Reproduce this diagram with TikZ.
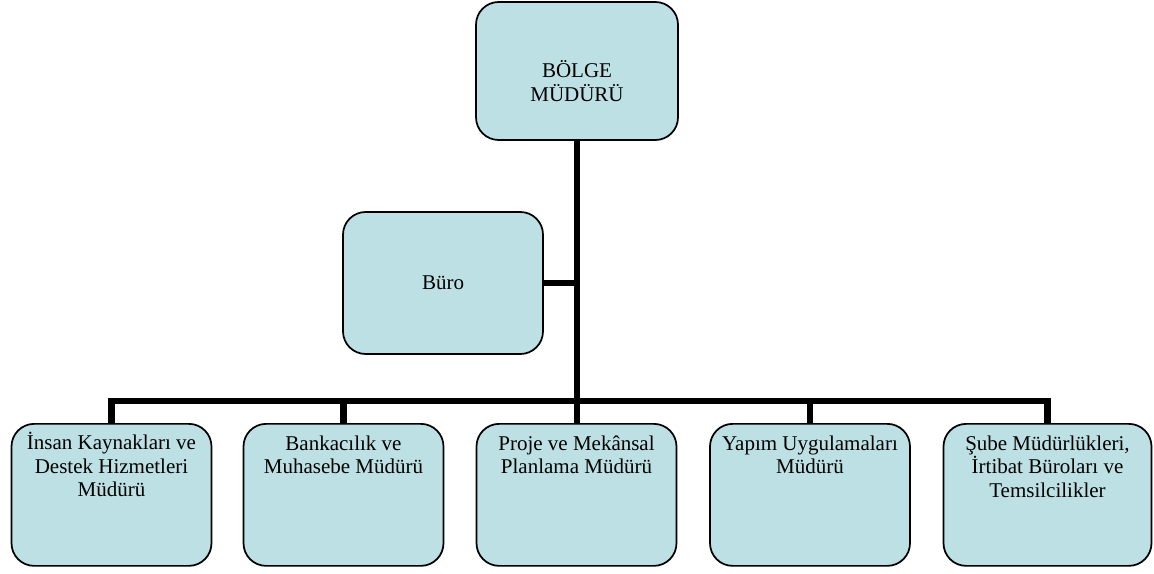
\documentclass[tikz,border=0pt]{standalone}
\usepackage{fontspec}
\setmainfont{Liberation Serif}
\definecolor{boxfill}{RGB}{188,224,228}
\tikzset{
  orgbox/.style={draw=black, line width=1.3pt, fill=boxfill, rounded corners=17pt,
    inner sep=0pt, minimum width=150pt, minimum height=106.5pt,
    font=\fontsize{15.75pt}{17.5pt}\selectfont, align=center},
  conn/.style={draw=black, line width=5.2pt, line join=miter}
}
\newcommand{\toptext}[3]{\parbox[c][#1][t]{146pt}{\centering\rule{0pt}{#2}#3}}
\begin{document}
\begin{tikzpicture}[x=0.75pt,y=-0.75pt]
\useasboundingbox (0,0) rectangle (1154,574);
% top
\node[orgbox, minimum width=151.5pt, minimum height=103.5pt] (top) at (577,71) {\toptext{103.5pt}{57pt}{BÖLGE\\MÜDÜRÜ}};
\node[orgbox] (buro) at (443,283) {Büro};
% bottom row
\node[orgbox, anchor=north] (p1) at (111.5,423) {\toptext{106.5pt}{19.5pt}{İnsan Kaynakları ve\\Destek Hizmetleri\\Müdürü}};
\node[orgbox, anchor=north] (p2) at (343.5,423) {\toptext{106.5pt}{20pt}{Bankacılık ve\\Muhasebe Müdürü}};
\node[orgbox, anchor=north] (p3) at (576.5,423) {\toptext{106.5pt}{20pt}{Proje ve Mekânsal\\Planlama Müdürü}};
\node[orgbox, anchor=north] (p4) at (810,423) {\toptext{106.5pt}{20pt}{Yapım Uygulamaları\\Müdürü}};
\node[orgbox, anchor=north, minimum width=156pt] (p5) at (1047.5,423) {\toptext{106.5pt}{20pt}{Şube Müdürlükleri,\\İrtibat Büroları ve\\Temsilcilikler}};
\coordinate (bus) at (577,401);
% connectors
\draw[conn] (top.south) -- (top.south |- p3.north);
\draw[conn] (buro.east) -- (buro.east -| top.south);
\draw[conn] (p1.north) -- (p1.north |- bus) -- (p5.north |- bus) -- (p5.north);
\draw[conn] (p2.north) -- (p2.north |- bus);
\draw[conn] (p4.north) -- (p4.north |- bus);
\end{tikzpicture}
\end{document}
